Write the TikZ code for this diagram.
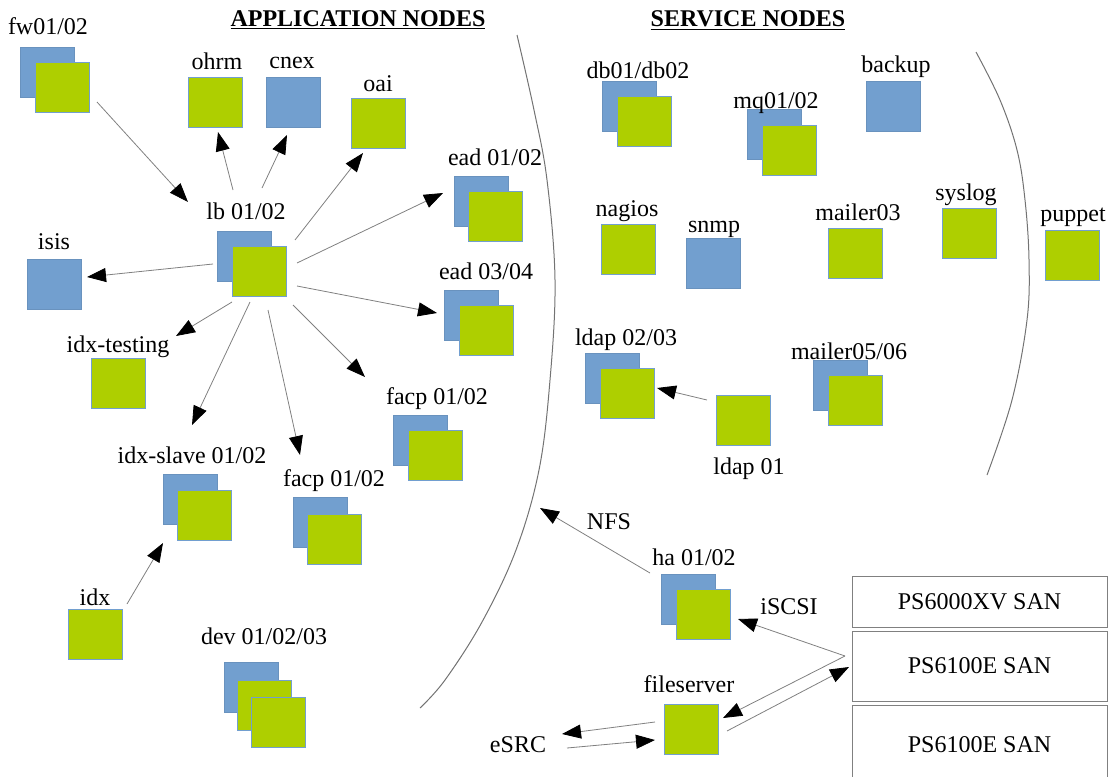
\documentclass[tikz,border=0pt]{standalone}
\usepackage{fontspec}
\setmainfont{Liberation Serif}
\usetikzlibrary{arrows.meta,calc}
\definecolor{sqgreen}{RGB}{174,207,0}
\definecolor{sqblue}{RGB}{114,159,207}
\definecolor{edgegray}{RGB}{128,128,128}
\tikzset{
  gsq/.style={draw=sqblue, line width=0.7pt, fill=sqgreen, minimum width=54pt, minimum height=50pt, inner sep=0pt},
  bsq/.style={draw=sqblue!92!black, line width=0.5pt, fill=sqblue, minimum width=54pt, minimum height=50pt, inner sep=0pt},
  lab/.style={font=\fontsize{24}{28}\selectfont, inner sep=0pt, anchor=base},
  ttl/.style={font=\fontsize{24}{28}\selectfont\bfseries, inner sep=0pt, anchor=base},
  arr/.style={draw=edgegray, line width=0.8pt, -{Triangle[length=19pt,width=14pt,color=black]}},
  sep/.style={draw=edgegray!90!black, line width=1pt},
  san/.style={draw=edgegray, line width=0.9pt, minimum width=255pt, inner sep=0pt, font=\fontsize{24}{28}\selectfont}
}
\begin{document}
\begin{tikzpicture}[x=1pt,y=-1pt]
\useasboundingbox (0,0) rectangle (1110,776);
% titles
\node[ttl] (t1) at (358,27) {\underline{APPLICATION NODES}};
\node[ttl] (t2) at (748,27) {\underline{SERVICE NODES}};
% separators
\draw[sep] plot[smooth, tension=0.6] coordinates {(517,35) (534,110) (547,180) (555,280) (550,380) (539,470) (516,550) (482,622) (445,680) (420,708)};
\draw[sep] plot[smooth, tension=0.6] coordinates {(976,52) (1000,100) (1017,150) (1025,200) (1029,260) (1027,320) (1012,400) (987,475)};
\coordinate (nfs) at (540,508);
% application nodes
\node[bsq] (fwB) at (47.5,72) {};
\node[gsq] (fw) at (62,87.5) {};
\node[lab] (fwL) at (48,35) {fw01/02};
\node[gsq] (ohrm) at (215.5,102.5) {};
\node[lab] (ohrmL) at (217,70) {ohrm};
\node[bsq] (cnex) at (293,102.5) {};
\node[lab] (cnexL) at (292,69) {cnex};
\node[gsq] (oai) at (378,123.5) {};
\node[lab] (oaiL) at (378,91) {oai};
\node[bsq] (lbB) at (244.5,256) {};
\node[gsq] (lb) at (259.5,271.5) {};
\node[lab] (lbL) at (246,219) {lb 01/02};
\node[bsq] (isis) at (54.5,284) {};
\node[lab] (isisL) at (54,249) {isis};
\node[gsq] (idxt) at (118,383) {};
\node[lab] (idxtL) at (118,352) {idx-testing};
\node[bsq] (idxsB) at (190,499.5) {};
\node[gsq] (idxs) at (204,515) {};
\node[lab] (idxsL) at (192,463) {idx-slave 01/02};
\node[gsq] (idx) at (95,634.5) {};
\node[lab] (idxL) at (95,605) {idx};
\node[bsq] (devB) at (251.5,687) {};
\node[gsq] (devM) at (264,705) {};
\node[gsq] (dev) at (278,722) {};
\node[lab] (devL) at (264,644) {dev 01/02/03};
\node[bsq] (facp2B) at (320.5,522) {};
\node[gsq] (facp2) at (334.5,539) {};
\node[lab] (facp2L) at (334,486) {facp 01/02};
\node[bsq] (facp1B) at (420.5,440) {};
\node[gsq] (facp1) at (435.5,455.5) {};
\node[lab] (facp1L) at (437,404) {facp 01/02};
\node[bsq] (ead34B) at (471,315) {};
\node[gsq] (ead34) at (486,330) {};
\node[lab] (ead34L) at (486,279) {ead 03/04};
\node[bsq] (ead12B) at (481,201) {};
\node[gsq] (ead12) at (495,216.5) {};
\node[lab] (ead12L) at (495,165) {ead 01/02};
% service nodes
\node[bsq] (dbB) at (629,106.5) {};
\node[gsq] (db) at (644,121.5) {};
\node[lab] (dbL) at (638,78) {db01/db02};
\node[bsq] (mqB) at (774,134.5) {};
\node[gsq] (mq) at (789,150) {};
\node[lab] (mqL) at (776,108) {mq01/02};
\node[bsq] (backup) at (893.5,106.5) {};
\node[lab] (backupL) at (896,73) {backup};
\node[gsq] (nagios) at (628,249.5) {};
\node[lab] (nagiosL) at (627,216) {nagios};
\node[bsq] (snmp) at (713,263) {};
\node[lab] (snmpL) at (714,232) {snmp};
\node[gsq] (mailer3) at (855,253.5) {};
\node[lab] (mailer3L) at (858,220) {mailer03};
\node[gsq] (syslog) at (969,233) {};
\node[lab] (syslogL) at (966,200) {syslog};
\node[gsq] (puppet) at (1072,255.5) {};
\node[lab] (puppetL) at (1073,221) {puppet};
\node[bsq] (ldapB) at (612,378) {};
\node[gsq] (ldap) at (627,393.5) {};
\node[lab] (ldapL) at (626,345) {ldap 02/03};
\node[gsq] (ldap1) at (743,420.5) {};
\node[lab] (ldap1L) at (749,474) {ldap 01};
\node[bsq] (mailerB) at (840,385) {};
\node[gsq] (mailer) at (855,400.5) {};
\node[lab] (mailerL) at (849,359) {mailer05/06};
\node[bsq] (haB) at (688.5,599.5) {};
\node[gsq] (ha) at (703,614.5) {};
\node[lab] (haL) at (694,565) {ha 01/02};
\node[gsq] (fs) at (691,729) {};
\node[lab] (fsL) at (689,692) {fileserver};
\node[lab, anchor=center] (esrc) at (518,745) {eSRC};
\node[lab] (nfsL) at (609,529) {NFS};
\node[lab] (iscsiL) at (789,614) {iSCSI};
% SAN boxes
\node[san, minimum height=51pt] (san1) at (979.5,601.5) {PS6000XV SAN};
\node[san, minimum height=70pt] (san2) at (979.5,666) {PS6100E SAN};
\node[san, minimum height=80pt] (san3) at (979.5,745) {PS6100E SAN};
% connectors
\draw[arr] ([shift={(35,14.5)}]fw.center) -- ([shift={(-71.5,-69.5)}]lb.center);
\draw[arr] ([shift={(-26.5,-81.5)}]lb.center) -- ([shift={(2.5,29.5)}]ohrm.center);
\draw[arr] ([shift={(2.5,-83.5)}]lb.center) -- ([shift={(-6,32.5)}]cnex.center);
\draw[arr] ([shift={(35.5,-31.5)}]lb.center) -- ([shift={(-15,29.5)}]oai.center);
\draw[arr] ([shift={(37.5,-8.5)}]lb.center) -- ([shift={(-38,-8)}]ead12B.center);
\draw[arr] ([shift={(37.5,14.5)}]lb.center) -- ([shift={(-34,-2)}]ead34B.center);
\draw[arr] ([shift={(33.5,33.5)}]lb.center) -- ([shift={(-55.5,-63)}]facp1B.center);
\draw[arr] ([shift={(8.5,38.5)}]lb.center) -- ([shift={(-20.5,-67)}]facp2B.center);
\draw[arr] ([shift={(-9.5,30.5)}]lb.center) -- ([shift={(2,-74.5)}]idxsB.center);
\draw[arr] ([shift={(-27.5,30.5)}]lb.center) -- ([shift={(58,-47)}]idxt.center);
\draw[arr] ([shift={(-31.5,8)}]lbB.center) -- ([shift={(32.5,-7)}]isis.center);
\draw[arr] ([shift={(32,-30.5)}]idx.center) -- ([shift={(-27,43.5)}]idxsB.center);
\draw[arr] ([shift={(-36,-20.5)}]ldap1.center) -- ([shift={(30,-5.5)}]ldap.center);
\draw[arr] ([shift={(-38.5,-26.5)}]haB.center) -- (nfs);
\draw[arr] ([shift={(-134.5,-10)}]san2.center) -- ([shift={(35,4.5)}]ha.center);
\draw[arr] ([shift={(-134.5,-10)}]san2.center) -- ([shift={(32,-11)}]fs.center);
\draw[arr] ([shift={(36,2)}]fs.center) -- ([shift={(-130.5,1)}]san2.center);
\draw[arr] ([shift={(-36,-7)}]fs.center) -- ([shift={(44,-11)}]esrc.center);
\draw[arr] ([shift={(49,3)}]esrc.center) -- ([shift={(-36,11)}]fs.center);
\end{tikzpicture}
\end{document}
